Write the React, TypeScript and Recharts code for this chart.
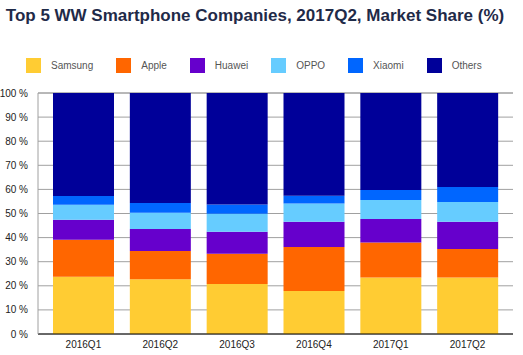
import { BarChart, Bar, XAxis, YAxis, CartesianGrid } from 'recharts'

const quarters = ['2016Q1', '2016Q2', '2016Q3', '2016Q4', '2017Q1', '2017Q2']

const samsung = [23.8, 22.7, 20.7, 17.8, 23.4, 23.4]
const apple = [15.3, 11.7, 12.6, 18.3, 14.6, 11.9]
const huawei = [8.3, 9.2, 9.1, 10.5, 9.7, 11.3]
const oppo = [6.2, 6.7, 7.5, 7.5, 7.9, 8.2]
const xiaomi = [3.7, 4.1, 3.8, 3.3, 4.2, 6.2]
const others = [42.7, 45.6, 46.3, 42.6, 40.2, 39.0]

const yTicks = [0, 10, 20, 30, 40, 50, 60, 70, 80, 90, 100]

const SERIES = [
  { key: 'Samsung', values: samsung, color: '#ffcc33' },
  { key: 'Apple', values: apple, color: '#ff6600' },
  { key: 'Huawei', values: huawei, color: '#6600cc' },
  { key: 'OPPO', values: oppo, color: '#66ccff' },
  { key: 'Xiaomi', values: xiaomi, color: '#0066ff' },
  { key: 'Others', values: others, color: '#000099' },
]

const data = quarters.map((q, i) => {
  const row: Record<string, string | number> = { quarter: q }
  SERIES.forEach(s => { row[s.key] = s.values[i] })
  return row
})

const FONT = '"Liberation Sans", Arial, sans-serif'

// plain svg text so "100 %" doesn't get wrapped
function YTick({ x, y, payload }: any) {
  return (
    <text x={x} y={y} dy="0.35em" textAnchor="end" fontSize={10} fill="#222" fontFamily={FONT}>
      {`${payload.value} %`}
    </text>
  )
}

function LegendRow() {
  return (
    <div
      style={{
        position: 'absolute', left: 0, top: 58, display: 'flex', alignItems: 'center',
        paddingLeft: 26, fontFamily: FONT, zIndex: 2,
      }}
    >
      {SERIES.map(s => (
        <div key={s.key} style={{ display: 'flex', alignItems: 'center', marginRight: 23 }}>
          <span style={{ width: 15, height: 15, background: s.color, display: 'inline-block' }} />
          <span style={{ marginLeft: 10, fontSize: 10, color: '#555' }}>{s.key}</span>
        </div>
      ))}
    </div>
  )
}

export default function App() {
  return (
    <div style={{ position: 'absolute', left: 0, top: 0, width: 523, height: 355, background: '#fff' }}>
      <div
        style={{
          position: 'absolute', left: 0, top: 6, width: 510, textAlign: 'center',
          fontFamily: FONT, fontWeight: 'bold', fontSize: 17, color: '#1f2a48', zIndex: 2,
        }}
      >
        Top 5 WW Smartphone Companies, 2017Q2, Market Share (%)
      </div>
      <LegendRow />
      <BarChart
        width={523}
        height={355}
        data={data}
        margin={{ top: 93, right: 10, bottom: 0, left: 0 }}
      >
        <CartesianGrid vertical={false} stroke="#a0a0a0" />
        <XAxis
          dataKey="quarter"
          height={21}
          tickLine={false}
          tickSize={0}
          tickMargin={7}
          stroke="#000"
          padding={{ left: 7, right: 7 }}
          tick={{ fontSize: 10, fill: '#222', fontFamily: FONT }}
        />
        <YAxis
          width={38}
          domain={[0, 100]}
          ticks={yTicks}
          tickLine={false}
          tickSize={0}
          tickMargin={10}
          stroke="#a0a0a0"
          tick={<YTick />}
          interval={0}
        />
        {SERIES.map(s => (
          <Bar key={s.key} dataKey={s.key} stackId="a" fill={s.color} barSize={61} isAnimationActive={false} />
        ))}
      </BarChart>
    </div>
  )
}
